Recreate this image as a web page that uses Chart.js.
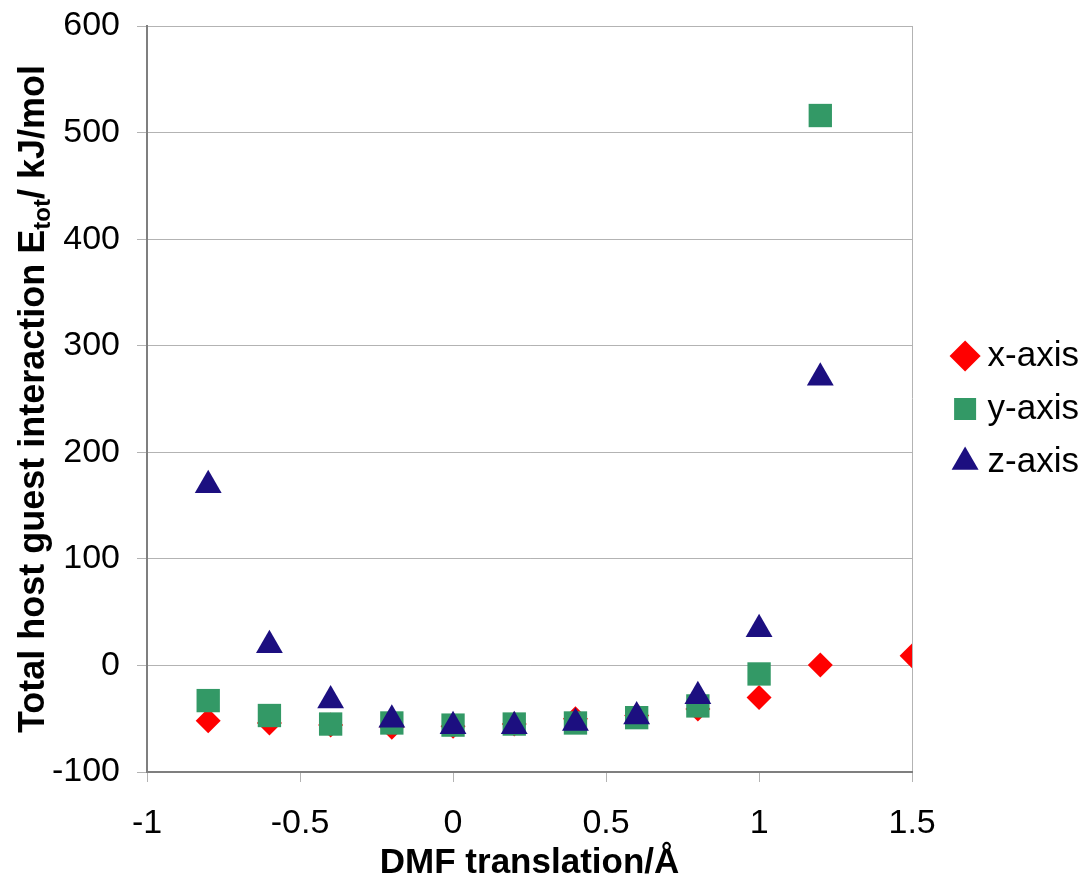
<!DOCTYPE html>
<html>
<head>
<meta charset="utf-8">
<script src="https://cdn.jsdelivr.net/npm/chart.js@4/dist/chart.umd.min.js"></script>
<style>
  html, body { margin: 0; padding: 0; background: #fff; }
  #wrap { width: 1087px; height: 884px; }
</style>
</head>
<body>
<div id="wrap"><canvas id="scatter" width="1087" height="884"></canvas></div>
<script>
const xValues = [-0.8, -0.6, -0.4, -0.2, 0, 0.2, 0.4, 0.6, 0.8, 1.0, 1.2, 1.5];
const xAxisVals = [-52, -54, -56, -58, -57, -55, -50, -47, -41, -30, 0.5, 9];
const yAxisX = [-0.8, -0.6, -0.4, -0.2, 0, 0.2, 0.4, 0.6, 0.8, 1.0, 1.2];
const yAxisVals = [-33, -47, -55, -54, -56, -55, -54, -49, -38, -8, 516];
const zAxisX = [-0.8, -0.6, -0.4, -0.2, 0, 0.2, 0.4, 0.6, 0.8, 1.0, 1.2];
const zAxisVals = [169, 19, -33, -51, -57, -57, -54, -48, -29, 34, 270];

const FONT = 'Arial, "Liberation Sans", sans-serif';

function pts(xs, ys) {
  return xs.map((x, i) => ({ x: x, y: ys[i] }));
}

// y title with a subscript, canvas text has no sub/sup
const yTitle = {
  id: 'yTitle',
  afterDraw(chart) {
    const ctx = chart.ctx;
    const area = chart.chartArea;
    const parts = [
      { t: 'Total host guest interaction E', f: 'bold 36px ' + FONT, dy: 0 },
      { t: 'tot', f: 'bold 24px ' + FONT, dy: 6 },
      { t: '/ kJ/mol', f: 'bold 36px ' + FONT, dy: 0 }
    ];
    ctx.save();
    let total = 0;
    parts.forEach(p => { ctx.font = p.f; p.w = ctx.measureText(p.t).width; total += p.w; });
    ctx.translate(44, (area.top + area.bottom) / 2);
    ctx.rotate(-Math.PI / 2);
    ctx.fillStyle = '#000';
    ctx.textBaseline = 'alphabetic';
    let x = -total / 2;
    parts.forEach(p => {
      ctx.font = p.f;
      ctx.fillText(p.t, x, p.dy);
      x += p.w;
    });
    ctx.restore();
  }
};

// nudge the legend box to where the original sits
const legendShift = {
  id: 'legendShift',
  afterLayout(chart) {
    const lg = chart.legend;
    if (!lg) return;
    lg.left += 30; lg.right += 30;
    lg.top -= 46; lg.bottom -= 46;
  }
};

new Chart(document.getElementById('scatter').getContext('2d'), {
  type: 'scatter',
  data: {
    datasets: [
      {
        label: 'x-axis',
        data: pts(xValues, xAxisVals),
        order: 3,
        pointStyle: 'rectRot',
        pointRadius: 12.5,
        pointHoverRadius: 12.5,
        backgroundColor: '#ff0000',
        borderColor: '#ff0000',
        borderWidth: 0
      },
      {
        label: 'y-axis',
        data: pts(yAxisX, yAxisVals),
        order: 2,
        pointStyle: 'rect',
        pointRadius: 16.5,
        pointHoverRadius: 16.5,
        backgroundColor: '#339966',
        borderColor: '#339966',
        borderWidth: 0
      },
      {
        label: 'z-axis',
        data: pts(zAxisX, zAxisVals),
        order: 1,
        pointStyle: 'triangle',
        pointRadius: 15.5,
        pointHoverRadius: 15.5,
        backgroundColor: '#1c0f80',
        borderColor: '#1c0f80',
        borderWidth: 0
      }
    ]
  },
  options: {
    responsive: false,
    animation: false,
    layout: { padding: { top: 26, right: 28, left: 0, bottom: 0 } },
    plugins: {
      tooltip: { enabled: false },
      legend: {
        position: 'right',
        labels: {
          usePointStyle: true,
          boxWidth: 10,
          boxHeight: 22,
          padding: 18,
          color: '#000',
          font: { family: FONT, size: 35 },
          sort: (a, b) => a.datasetIndex - b.datasetIndex
        }
      }
    },
    scales: {
      x: {
        type: 'linear',
        min: -1,
        max: 1.5,
        ticks: {
          stepSize: 0.5,
          color: '#000',
          padding: 21,
          font: { family: FONT, size: 34 },
          callback: v => String(v)
        },
        grid: {
          color: ctx => ctx.tick && ctx.tick.value === 1.5 ? '#b3b3b3' : 'rgba(0,0,0,0)',
          tickColor: '#b3b3b3',
          tickLength: 10
        },
        border: { color: '#7f7f7f', width: 2 },
        title: {
          display: true,
          text: 'DMF translation/Å',
          color: '#000',
          font: { family: FONT, size: 35, weight: 'bold' },
          padding: { top: 0, bottom: 0 }
        },
        afterFit(scale) { scale.height = 112; }
      },
      y: {
        min: -100,
        max: 600,
        ticks: {
          stepSize: 100,
          color: '#000',
          padding: 17,
          font: { family: FONT, size: 34 }
        },
        grid: {
          color: '#b3b3b3',
          tickColor: '#b3b3b3',
          tickLength: 10
        },
        border: { color: '#7f7f7f', width: 2 },
        afterFit(scale) {
          scale.width = 147;
          scale.paddingTop = 0;
          scale.paddingBottom = 0;
        }
      }
    }
  },
  plugins: [yTitle, legendShift]
});
</script>
</body>
</html>
